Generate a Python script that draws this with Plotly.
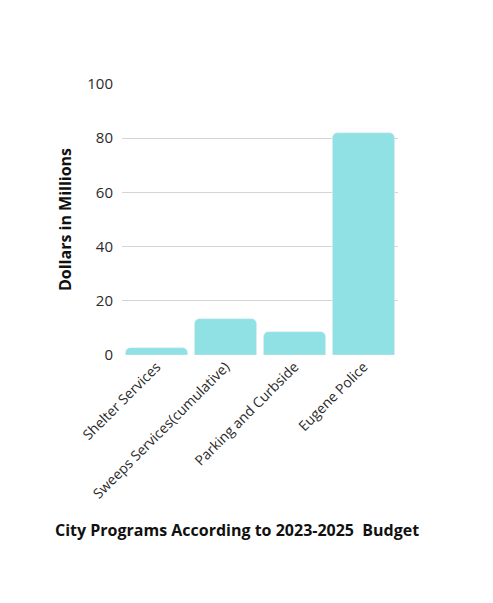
import plotly.graph_objects as go

programs = [
    "Shelter Services",
    "Sweeps Services(cumulative)",
    "Parking and Curbside",
    "Eugene Police",
]
dollars_millions = [2.7, 13.4, 8.6, 82.0]
y_ticks = [0, 20, 40, 60, 80, 100]

fig = go.Figure()
fig.add_bar(
    x=programs,
    y=dollars_millions,
    marker=dict(color="#8FE1E4", cornerradius=5),
    showlegend=False,
)
fig.update_layout(
    width=477,
    height=587,
    margin=dict(l=114, r=87, t=76, b=240, autoexpand=False),
    plot_bgcolor="white",
    paper_bgcolor="white",
    bargap=0.1,
    font=dict(family="Open Sans", color="#222222"),
    annotations=[
        dict(
            text="<b>City Programs According to 2023-2025  Budget</b>",
            x=0.417,
            xref="paper",
            xanchor="center",
            y=-0.645,
            yref="paper",
            yanchor="middle",
            showarrow=False,
            font=dict(size=16, color="#111111"),
        )
    ],
)
fig.update_yaxes(
    range=[0, 100],
    tickvals=y_ticks,
    showgrid=True,
    gridcolor="#d5d5d5",
    gridwidth=1,
    zeroline=False,
    automargin=False,
    tickfont=dict(size=15, color="#2a2a2a"),
    ticks="",
    ticklabelstandoff=8,
    title=dict(text="<b>Dollars in Millions</b>", font=dict(size=16, color="#111111"), standoff=11),
)
fig.update_xaxes(
    tickangle=-45,
    automargin=False,
    tickfont=dict(size=14, color="#2a2a2a"),
    showline=False,
    ticks="",
)
fig.write_html("out.html")
